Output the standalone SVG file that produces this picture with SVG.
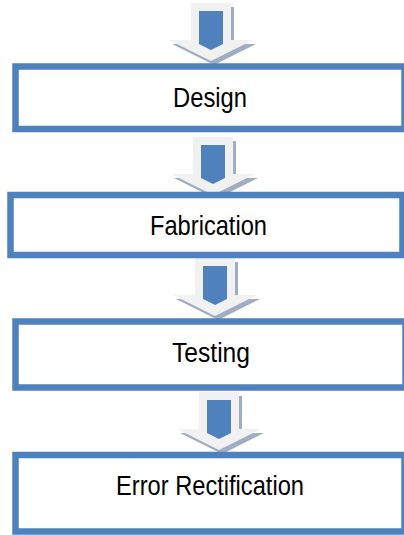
<svg xmlns="http://www.w3.org/2000/svg" xmlns:xlink="http://www.w3.org/1999/xlink" width="404" height="535" viewBox="0 0 404 535">
  <style>
    .box { fill: #FFFFFF; stroke: #4F81BD; stroke-width: 6.5; }
    .label { font-family: "Liberation Sans", Arial, sans-serif; font-size: 27.5px; fill: #000000; text-anchor: middle; }
    .outer { fill: #F1F1F1; }
    .shadow { fill: #A0ADC3; }
    .inner { fill: #4F81BD; }
  </style>
  <defs>
    <g id="arrow">
      <path class="shadow" d="M -17 4 H 23 V 41 H 45 L 3 62 L -39 41 H -17 Z"/>
      <path class="outer" d="M -20 0 H 20 V 37 H 42 L 0 58 L -42 37 H -20 Z"/>
      <path class="inner" d="M -12 8 H 12 V 41 L 0 47 L -12 41 Z"/>
    </g>
  </defs>

  <g id="connectors">
    <use xlink:href="#arrow" href="#arrow" transform="translate(211,3)"/>
    <use xlink:href="#arrow" href="#arrow" transform="translate(213,137)"/>
    <use xlink:href="#arrow" href="#arrow" transform="translate(215,258)"/>
    <use xlink:href="#arrow" href="#arrow" transform="translate(219,392)"/>
  </g>

  <g id="design">
    <rect class="box" x="15.5" y="66.5" width="389" height="62.5"/>
    <text class="label" x="210" y="107" textLength="74" lengthAdjust="spacingAndGlyphs">Design</text>
  </g>

  <g id="fabrication">
    <rect class="box" x="10.5" y="195" width="392" height="60"/>
    <text class="label" x="208.5" y="235" textLength="117" lengthAdjust="spacingAndGlyphs">Fabrication</text>
  </g>

  <g id="testing">
    <rect class="box" x="15.5" y="321.5" width="390" height="66"/>
    <text class="label" x="211" y="362" textLength="78" lengthAdjust="spacingAndGlyphs">Testing</text>
  </g>

  <g id="error-rectification">
    <rect class="box" x="15.5" y="455" width="389" height="76.5"/>
    <text class="label" x="210" y="495" textLength="188" lengthAdjust="spacingAndGlyphs">Error Rectification</text>
  </g>
</svg>
